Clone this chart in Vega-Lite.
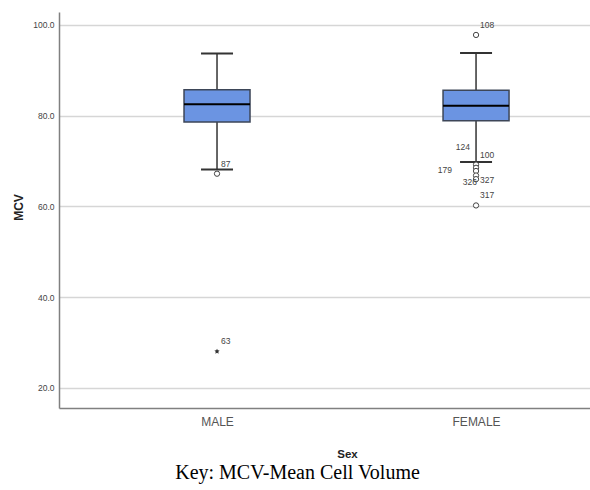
{
  "$schema": "https://vega.github.io/schema/vega-lite/v6.json",
  "width": 531,
  "height": 396,
  "autosize": {"type": "none"},
  "padding": {"left": 59, "top": 12, "right": 0, "bottom": 82},
  "background": "white",
  "title": {
    "text": "Key: MCV-Mean Cell Volume",
    "orient": "bottom",
    "anchor": "middle",
    "frame": "group",
    "font": "Liberation Serif",
    "fontSize": 20,
    "fontWeight": "normal",
    "color": "#000000",
    "dx": -27,
    "offset": 3
  },
  "config": {
    "view": {"stroke": null},
    "axis": {
      "domainColor": "#808080",
      "domainWidth": 1.5,
      "gridColor": "#d6d6d6",
      "gridWidth": 1.5,
      "ticks": false,
      "tickSize": 0
    }
  },
  "datasets": {
    "stats": [
      {"sex": "MALE", "lower": 68.1, "q1": 78.6, "median": 82.5, "q3": 85.7, "upper": 93.7},
      {"sex": "FEMALE", "lower": 69.8, "q1": 78.9, "median": 82.2, "q3": 85.6, "upper": 93.8}
    ],
    "points": [
      {"sex": "MALE", "mcv": 67.2, "case": "87", "kind": "outlier"},
      {"sex": "MALE", "mcv": 28.0, "case": "63", "kind": "extreme"},
      {"sex": "FEMALE", "mcv": 97.8, "case": "108", "kind": "outlier"},
      {"sex": "FEMALE", "mcv": 69.2, "case": "100", "kind": "outlier"},
      {"sex": "FEMALE", "mcv": 68.5, "case": "124", "kind": "outlier"},
      {"sex": "FEMALE", "mcv": 67.8, "case": "179", "kind": "outlier"},
      {"sex": "FEMALE", "mcv": 66.8, "case": "327", "kind": "outlier"},
      {"sex": "FEMALE", "mcv": 66.0, "case": "326", "kind": "outlier"},
      {"sex": "FEMALE", "mcv": 60.2, "case": "317", "kind": "outlier"}
    ]
  },
  "encoding": {
    "x": {
      "field": "sex",
      "type": "nominal",
      "sort": ["MALE", "FEMALE"],
      "scale": {"type": "point", "padding": 0.525, "align": 0.581},
      "title": "Sex",
      "axis": {
        "labelAngle": 0,
        "labelFont": "Liberation Sans",
        "labelFontSize": 12,
        "labelColor": "#555555",
        "labelPadding": 8,
        "labelBaseline": "top",
        "labelAlign": "center",
        "titleFont": "Liberation Sans",
        "titleFontSize": 11.5,
        "titleFontWeight": "bold",
        "titleColor": "#222222",
        "titleX": 288,
        "titleY": 49,
        "titleAlign": "center",
        "titleBaseline": "alphabetic",
        "grid": false
      }
    }
  },
  "layer": [
    {
      "data": {"name": "stats"},
      "mark": {"type": "rule", "color": "#333333", "strokeWidth": 1.5},
      "encoding": {
        "y": {
          "field": "lower",
          "type": "quantitative",
          "title": "MCV",
          "scale": {"domain": [15.53, 102.86], "nice": false, "zero": false},
          "axis": {
            "values": [20, 40, 60, 80, 100],
            "format": ".1f",
            "grid": true,
            "labelFont": "Liberation Sans",
            "labelFontSize": 8.5,
            "labelColor": "#444444",
            "labelPadding": 5,
            "titleFont": "Liberation Sans",
            "titleFontSize": 12,
            "titleFontWeight": "bold",
            "titleColor": "#222222",
            "titleAngle": 270,
            "titleX": -41,
            "titleY": 195,
            "titleAlign": "center",
            "titleBaseline": "middle"
          }
        },
        "y2": {"field": "q1"}
      }
    },
    {
      "data": {"name": "stats"},
      "mark": {"type": "rule", "color": "#333333", "strokeWidth": 1.5},
      "encoding": {
        "y": {"field": "q3", "type": "quantitative", "title": "MCV"},
        "y2": {"field": "upper"}
      }
    },
    {
      "data": {"name": "stats"},
      "mark": {"type": "bar", "size": 66, "fill": "#6b94e2", "stroke": "#3d4658", "strokeWidth": 1.5},
      "encoding": {
        "y": {"field": "q1", "type": "quantitative", "title": "MCV"},
        "y2": {"field": "q3"}
      }
    },
    {
      "data": {"name": "stats"},
      "mark": {"type": "tick", "size": 66, "thickness": 2, "color": "#000000", "opacity": 1},
      "encoding": {
        "y": {"field": "median", "type": "quantitative", "title": "MCV"}
      }
    },
    {
      "data": {"name": "stats"},
      "mark": {"type": "tick", "size": 32, "thickness": 2, "color": "#333333", "opacity": 1},
      "encoding": {
        "y": {"field": "lower", "type": "quantitative", "title": "MCV"}
      }
    },
    {
      "data": {"name": "stats"},
      "mark": {"type": "tick", "size": 32, "thickness": 2, "color": "#333333", "opacity": 1},
      "encoding": {
        "y": {"field": "upper", "type": "quantitative", "title": "MCV"}
      }
    },
    {
      "data": {"name": "points"},
      "transform": [{"filter": "datum.kind == 'outlier'"}],
      "mark": {"type": "point", "shape": "circle", "filled": false, "fill": "white", "stroke": "#444444", "strokeWidth": 1, "size": 28, "opacity": 1},
      "encoding": {
        "y": {"field": "mcv", "type": "quantitative", "title": "MCV"}
      }
    },
    {
      "data": {"name": "points"},
      "transform": [{"filter": "datum.kind == 'extreme'"}],
      "mark": {"type": "point", "shape": "M0,-1L0.29,-0.4L0.95,-0.31L0.48,0.15L0.59,0.81L0,0.5L-0.59,0.81L-0.48,0.15L-0.95,-0.31L-0.29,-0.4Z", "filled": true, "color": "#333333", "size": 30, "opacity": 1},
      "encoding": {
        "y": {"field": "mcv", "type": "quantitative", "title": "MCV"}
      }
    },
    {
      "data": {"name": "points"},
      "transform": [{"filter": "indexof(['87','63','108','100','317'], datum.case) >= 0"}],
      "mark": {"type": "text", "align": "left", "baseline": "middle", "dx": 4, "dy": -10, "font": "Liberation Sans", "fontSize": 8.5, "color": "#444444"},
      "encoding": {
        "y": {"field": "mcv", "type": "quantitative", "title": "MCV"},
        "text": {"field": "case"}
      }
    },
    {
      "data": {"name": "points"},
      "transform": [{"filter": "datum.case == '124'"}],
      "mark": {"type": "text", "align": "right", "baseline": "middle", "dx": -6, "dy": -21, "font": "Liberation Sans", "fontSize": 8.5, "color": "#444444"},
      "encoding": {
        "y": {"field": "mcv", "type": "quantitative", "title": "MCV"},
        "text": {"field": "case"}
      }
    },
    {
      "data": {"name": "points"},
      "transform": [{"filter": "datum.case == '179'"}],
      "mark": {"type": "text", "align": "right", "baseline": "middle", "dx": -24, "dy": -1, "font": "Liberation Sans", "fontSize": 8.5, "color": "#444444"},
      "encoding": {
        "y": {"field": "mcv", "type": "quantitative", "title": "MCV"},
        "text": {"field": "case"}
      }
    },
    {
      "data": {"name": "points"},
      "transform": [{"filter": "datum.case == '327'"}],
      "mark": {"type": "text", "align": "left", "baseline": "middle", "dx": 4, "dy": 4, "font": "Liberation Sans", "fontSize": 8.5, "color": "#444444"},
      "encoding": {
        "y": {"field": "mcv", "type": "quantitative", "title": "MCV"},
        "text": {"field": "case"}
      }
    },
    {
      "data": {"name": "points"},
      "transform": [{"filter": "datum.case == '326'"}],
      "mark": {"type": "text", "align": "right", "baseline": "middle", "dx": 1, "dy": 3, "font": "Liberation Sans", "fontSize": 8.5, "color": "#444444"},
      "encoding": {
        "y": {"field": "mcv", "type": "quantitative", "title": "MCV"},
        "text": {"field": "case"}
      }
    }
  ]
}
